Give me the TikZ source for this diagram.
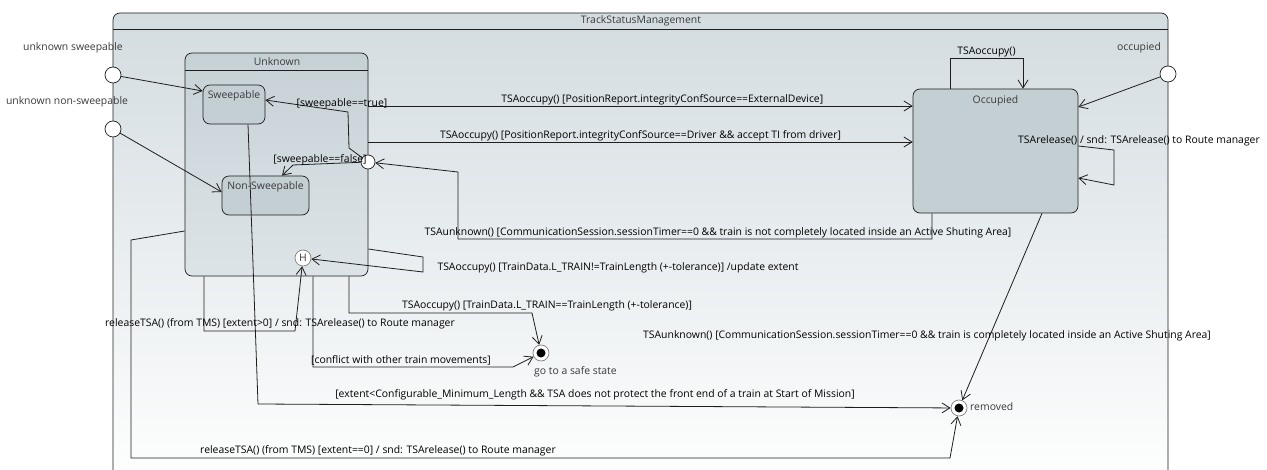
\documentclass[tikz,border=0pt]{standalone}
\usepackage{fontspec}
\setmainfont{Open Sans}
\usetikzlibrary{arrows.meta}
\definecolor{frameblue}{HTML}{D3DCE0}
\definecolor{stategray}{HTML}{C4CFD4}
\definecolor{unknowntop}{HTML}{C6D1D6}
\definecolor{unknownbot}{HTML}{DDE4E7}
\definecolor{inkgray}{HTML}{3A3A3A}
\definecolor{linedark}{HTML}{1E1E1E}

\begin{document}
\begin{tikzpicture}[x=1pt, y=-1pt,
  every node/.style={font=\fontsize{10.4}{12}\selectfont},
  trans/.style={draw=linedark, line width=0.8pt, -{Straight Barb[length=8pt,width=10pt]}},
  guard/.style={text=black, inner sep=1pt},
  statename/.style={text=inkgray, inner sep=1pt},
  simplestate/.style={draw=linedark, line width=0.7pt, rounded corners=7pt, fill=stategray, inner sep=0pt},
  entrypt/.style={circle, draw=linedark, fill=white, minimum size=16pt, inner sep=0pt, line width=0.7pt},
  choicept/.style={circle, draw=linedark, fill=white, minimum size=14pt, inner sep=0pt, line width=0.7pt},
  histpt/.style={circle, draw=gray, fill=white, minimum size=16pt, inner sep=0pt, text=inkgray, line width=0.7pt},
  finalpt/.style={circle, draw=gray, fill=white, minimum size=16pt, inner sep=0pt, line width=0.7pt,
    path picture={\fill[black] (path picture bounding box.center) circle (4.5pt);}}]
  \useasboundingbox (0,0) rectangle (1267,470);
  \clip (0,0) rectangle (1267,470);

  % Cadre TrackStatusManagement
  \shade[top color=frameblue, bottom color=white, draw=linedark, line width=0.7pt, rounded corners=7pt] (113,13) rectangle (1168,490);
  \draw[linedark, line width=0.7pt] (113,29) -- (1168,29);
  \node[statename] (tsm) at (641,21) {TrackStatusManagement};

  % Etat composite Unknown
  \node[draw=linedark, line width=0.7pt, rounded corners=7pt, top color=unknowntop, bottom color=unknownbot,
        minimum width=183pt, minimum height=223pt, inner sep=0pt] (unknown) at (276.5,164.5) {};
  \draw[linedark, line width=0.7pt] ([yshift=-18pt]unknown.north west) -- ([yshift=-18pt]unknown.north east);
  \node[statename] (unknowntitle) at (277,62) {Unknown};

  % Etats simples
  \node[simplestate, minimum width=62pt, minimum height=39pt,
        label={[statename, below=5pt]north:Sweepable}] (sweep) at (234,104.5) {};
  \node[simplestate, minimum width=87pt, minimum height=39pt,
        label={[statename, below=5pt]north:Non-Sweepable}] (nonsw) at (265.5,195.5) {};
  \node[simplestate, minimum width=165pt, minimum height=124pt,
        label={[statename, below=6pt]north:Occupied}] (occ) at (995.5,151) {};

  % Pseudo-etats
  \node[entrypt] (epsweep) at (113,75) {};
  \node[entrypt] (epnonsw) at (113,129) {};
  \node[entrypt] (epocc) at (1168,74) {};
  \node[statename] (epsweeplbl) at (73,48) {unknown sweepable};
  \node[statename] (epnonswlbl) at (67,102) {unknown non-sweepable};
  \node[statename] (epocclbl) at (1139,48) {occupied};
  \node[choicept] (choice) at (368,162) {};
  \node[histpt] (hist) at (303,258) {H};
  \node[finalpt] (safe) at (541,353) {};
  \node[statename, anchor=west] (safelbl) at (533,372) {go to a safe state};
  \node[finalpt] (removed) at (959,408) {};
  \node[statename, anchor=west] (removedlbl) at (969,407) {removed};

  % Transitions d'entree
  \draw[trans] (epsweep) -- (sweep.west |- 0,91);
  \draw[trans] (epnonsw) -- (nonsw.west |- 0,192);
  \draw[trans] (epocc) -- (occ.east |- 0,107);

  % Choix sweepable
  \draw[trans] (choice) -- (349,148) -- (348,112) -- (sweep.east |- 0,100);
  \node[guard] (guardtrue) at (342,104) {[sweepable==true]};
  \draw[trans] (choice) -- (293,165) -- (282,0 |- nonsw.north);
  \node[guard] (guardfalse) at (320,160) {[sweepable==false]};

  % Unknown vers Occupied
  \draw[trans] (unknown.east |- 0,106) -- node[guard, above, pos=0.54] {TSAoccupy() [PositionReport.integrityConfSource==ExternalDevice]} (occ.west |- 0,106);
  \draw[trans] (unknown.east |- 0,142) -- node[guard, above] {TSAoccupy() [PositionReport.integrityConfSource==Driver \&\& accept TI from driver]} (occ.west |- 0,142);

  % Boucles sur Occupied
  \draw[trans] (950,0 |- occ.north) -- (950,58) -- node[guard, above] {TSAoccupy()} (1023,58) -- (1023,0 |- occ.north);
  \draw[trans] (occ.east |- 0,146) -- (1114,150) -- (1114,185) -- (occ.east |- 0,178);
  \node[guard] (releaseocc) at (1139,141) {TSArelease() / snd: TSArelease() to Route manager};

  % Occupied vers Unknown / removed
  \draw[trans] (932,0 |- occ.south) -- (932,239) -- (458,239) -- (458,172) -- (choice);
  \node[guard] (unknownpart) at (718,233) {TSAunknown() [CommunicationSession.sessionTimer==0 \&\& train is not completely located inside an Active Shuting Area]};
  \draw[trans] (1042,0 |- occ.south) -- (removed);
  \node[guard] (unknownfull) at (927,336) {TSAunknown() [CommunicationSession.sessionTimer==0 \&\& train is completely located inside an Active Shuting Area]};

  % Sorties de Unknown
  \draw[trans] (unknown.east |- 0,249) -- (423,257) -- (423,272) -- (hist);
  \node[guard] (updext) at (618,268) {TSAoccupy() [TrainData.L\_TRAIN!=TrainLength (+-tolerance)] /update extent};
  \draw[trans] (349,0 |- unknown.south) -- (349,313) -- (532,313) -- (safe);
  \node[guard] (lengthok) at (547,306) {TSAoccupy() [TrainData.L\_TRAIN==TrainLength (+-tolerance)]};
  \draw[trans] (313,0 |- unknown.south) -- (313,367) -- (513,367) -- (safe);
  \node[guard] (conflict) at (401,360) {[conflict with other train movements]};
  \draw[trans] (248,0 |- sweep.south) -- (258,404) -- (removed);
  \node[guard] (minlength) at (595,395) {[extent<Configurable\_Minimum\_Length \&\& TSA does not protect the front end of a train at Start of Mission]};
  \draw[trans] (204,0 |- unknown.south) -- (204,331) -- (295,331) -- (hist);
  \node[guard] (releasepos) at (280,324) {releaseTSA() (from TMS) [extent>0] / snd: TSArelease() to Route manager};
  \draw[trans] (unknown.west |- 0,231) -- (131,240) -- (131,458) -- (950,458) -- (removed);
  \node[guard] (releasezero) at (378,451) {releaseTSA() (from TMS) [extent==0] / snd: TSArelease() to Route manager};
\end{tikzpicture}
\end{document}
